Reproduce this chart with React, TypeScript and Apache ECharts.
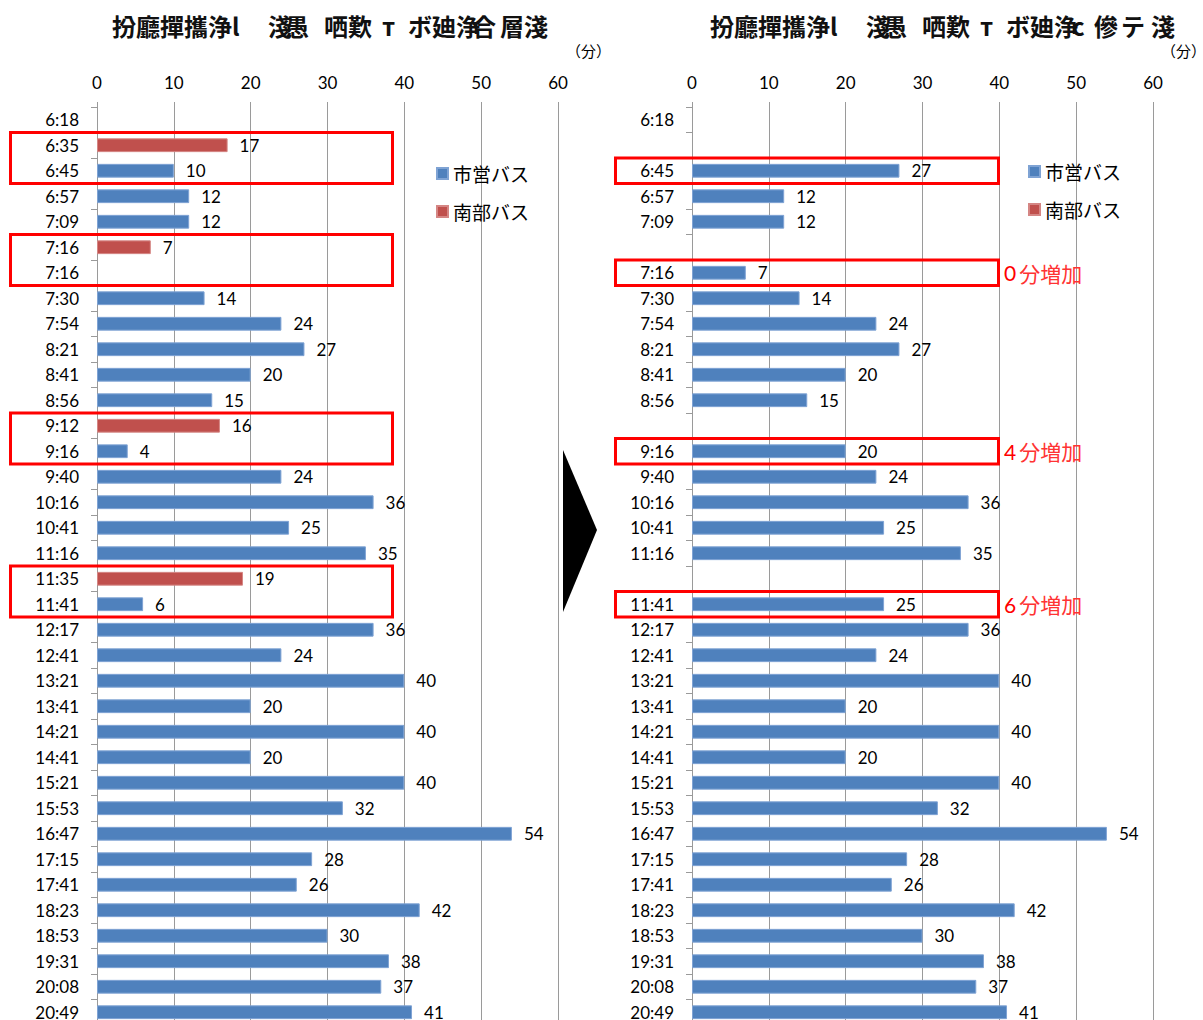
import React, { useEffect, useRef } from "react";
import * as echarts from "echarts";

// ---------- data ----------
const seriesNames = ["市営バス", "南部バス"];

const leftCategories = [
  "6:18", "6:35", "6:45", "6:57", "7:09", "7:16", "7:16", "7:30", "7:54", "8:21",
  "8:41", "8:56", "9:12", "9:16", "9:40", "10:16", "10:41", "11:16", "11:35", "11:41",
  "12:17", "12:41", "13:21", "13:41", "14:21", "14:41", "15:21", "15:53", "16:47", "17:15",
  "17:41", "18:23", "18:53", "19:31", "20:08", "20:49",
];
const leftCityBus = [
  null, null, 10, 12, 12, null, null, 14, 24, 27,
  20, 15, null, 4, 24, 36, 25, 35, null, 6,
  36, 24, 40, 20, 40, 20, 40, 32, 54, 28,
  26, 42, 30, 38, 37, 41,
];
const leftNanbuBus = [
  null, 17, null, null, null, 7, null, null, null, null,
  null, null, 16, null, null, null, null, null, 19, null,
  null, null, null, null, null, null, null, null, null, null,
  null, null, null, null, null, null,
];

const rightCategories = [
  "6:18", "", "6:45", "6:57", "7:09", "", "7:16", "7:30", "7:54", "8:21",
  "8:41", "8:56", "", "9:16", "9:40", "10:16", "10:41", "11:16", "", "11:41",
  "12:17", "12:41", "13:21", "13:41", "14:21", "14:41", "15:21", "15:53", "16:47", "17:15",
  "17:41", "18:23", "18:53", "19:31", "20:08", "20:49",
];
const rightCityBus = [
  null, null, 27, 12, 12, null, 7, 14, 24, 27,
  20, 15, null, 20, 24, 36, 25, 35, null, 25,
  36, 24, 40, 20, 40, 20, 40, 32, 54, 28,
  26, 42, 30, 38, 37, 41,
];
const rightNanbuBus = rightCategories.map(() => null);

const xMin = 0;
const xMax = 60;
const xInterval = 10;

// highlighted rows (category indices)
const leftBoxRows = [[1, 2], [5, 6], [12, 13], [18, 19]];
const rightBoxRows = [[2, 2], [6, 6], [13, 13], [19, 19]];
const increaseRows = [6, 13, 19];
const increaseMinutes = [0, 4, 6];

const unitLabel = "（分）";
const leftTitleParts = ["扮廳撣攜浄l", "淺", "愚", "哂歎", "т", "ボ廸浄", "合", "層淺"];
const rightTitleParts = ["扮廳撣攜浄l", "淺", "愚", "哂歎", "т", "ボ廸浄", "c", "傪", "テ", "淺"];

// ---------- layout ----------
const leftTitleX = [112, 268, 285, 324, 382, 408, 472, 500];
const rightTitleX = [710, 866, 883, 922, 980, 1006, 1072, 1094, 1121, 1151];

const BLUE = "#4F81BD";
const RED = "#C0504D";
const GRID = "#9a9a9a";
const NUM = "Lato, 'Noto Sans CJK JP', sans-serif";
const CJK = "'Noto Sans CJK JP', sans-serif";

export default function App() {
  const ref = useRef<HTMLDivElement>(null);

  useEffect(() => {
    document.body.style.margin = "0";
    document.body.style.overflow = "hidden";
    const chart = echarts.init(ref.current!, null, { renderer: "svg" });

    const grids = [
      { left: 97, top: 107, width: 461, height: 918 },
      { left: 692, top: 107, width: 461, height: 918 },
    ];

    const xAxis = [0, 1].map((i) => ({
      type: "value",
      gridIndex: i,
      position: "top",
      min: xMin,
      max: xMax,
      interval: xInterval,
      axisLine: { show: false },
      axisTick: { show: true, length: 5, lineStyle: { color: GRID } },
      axisLabel: { color: "#000", fontSize: 17, fontFamily: NUM, margin: 16 },
      splitLine: { show: true, lineStyle: { color: GRID, width: 1 } },
    }));

    const yAxis = [leftCategories, rightCategories].map((cats, i) => ({
      type: "category",
      gridIndex: i,
      data: cats,
      inverse: true,
      axisLine: { show: true, lineStyle: { color: GRID } },
      axisTick: { show: true, interval: 0, length: 6, lineStyle: { color: GRID } },
      axisLabel: { interval: 0, color: "#000", fontSize: 17, fontFamily: NUM, margin: 18 },
      splitLine: { show: false },
    }));

    const mk = (name: string, data: any[], i: number, color: string, border: string) => ({
      type: "bar",
      name,
      xAxisIndex: i,
      yAxisIndex: i,
      data,
      barWidth: "54%",
      barGap: "-100%",
      itemStyle: { color, borderColor: border, borderWidth: 1 },
      label: {
        show: true,
        position: "right",
        distance: 12,
        color: "#000",
        fontSize: 17,
        fontFamily: NUM,
      },
    });

    const legendBase = {
      orient: "vertical",
      icon: "rect",
      itemWidth: 11,
      itemHeight: 11,
      itemGap: 19,
      selectedMode: false,
      data: seriesNames,
      textStyle: { fontSize: 19, fontFamily: CJK, color: "#000" },
    };

    chart.setOption({
      animation: false,
      grid: grids,
      xAxis,
      yAxis,
      legend: [
        { ...legendBase, left: 431, top: 159 },
        { ...legendBase, left: 1023, top: 157 },
      ],
      series: [
        mk(seriesNames[0], leftCityBus, 0, BLUE, "#7FA3D4"),
        mk(seriesNames[1], leftNanbuBus, 0, RED, "#D58684"),
        mk(seriesNames[0], rightCityBus, 1, BLUE, "#7FA3D4"),
        mk(seriesNames[1], rightNanbuBus, 1, RED, "#D58684"),
      ],
    });

    const py = (gi: number, idx: number) =>
      chart.convertToPixel({ yAxisIndex: gi } as any, idx) as unknown as number;

    const elements: any[] = [];

    const titleStyle = { fill: "#111", fontSize: 24, fontWeight: "bold", fontFamily: CJK, verticalAlign: "middle" };
    leftTitleParts.forEach((t, k) =>
      elements.push({ type: "text", x: leftTitleX[k], y: 25, style: { ...titleStyle, text: t } })
    );
    rightTitleParts.forEach((t, k) =>
      elements.push({ type: "text", x: rightTitleX[k], y: 25, style: { ...titleStyle, text: t } })
    );

    const unitStyle = { fill: "#000", fontSize: 15, fontFamily: CJK, verticalAlign: "middle" };
    elements.push({ type: "text", x: 566, y: 50, style: { ...unitStyle, text: unitLabel } });
    elements.push({ type: "text", x: 1161, y: 50, style: { ...unitStyle, text: unitLabel } });

    const boxStyle = { fill: "none", stroke: "#FF0000", lineWidth: 3 };
    const pitch0 = Math.abs(py(0, 1) - py(0, 0));
    leftBoxRows.forEach(([a, b]) => {
      const y1 = py(0, a) - pitch0 / 2;
      const y2 = py(0, b) + pitch0 / 2;
      elements.push({ type: "rect", z: 100, shape: { x: 10.5, y: y1, width: 382, height: y2 - y1 }, style: boxStyle });
    });
    const pitch1 = Math.abs(py(1, 1) - py(1, 0));
    rightBoxRows.forEach(([a, b]) => {
      const y1 = py(1, a) - pitch1 / 2;
      const y2 = py(1, b) + pitch1 / 2;
      elements.push({ type: "rect", z: 100, shape: { x: 615.5, y: y1, width: 383, height: y2 - y1 }, style: boxStyle });
    });

    increaseRows.forEach((row, k) => {
      elements.push({
        type: "text",
        z: 100,
        x: 1004,
        y: py(1, row),
        style: {
          text: `{n|${increaseMinutes[k]}}{t|分増加}`,
          verticalAlign: "middle",
          rich: {
            n: { fill: "#FF0000", fontSize: 21, fontFamily: NUM, padding: [0, 3, 0, 0] },
            t: { fill: "#FF3333", fontSize: 21, fontFamily: CJK },
          },
        },
      });
    });

    elements.push({
      type: "polygon",
      z: 100,
      shape: { points: [[563, 450], [563, 612], [597, 530]] },
      style: { fill: "#000" },
    });

    chart.setOption({ graphic: { elements } });

    return () => chart.dispose();
  }, []);

  return <div ref={ref} style={{ width: 1203, height: 1040 }} />;
}
